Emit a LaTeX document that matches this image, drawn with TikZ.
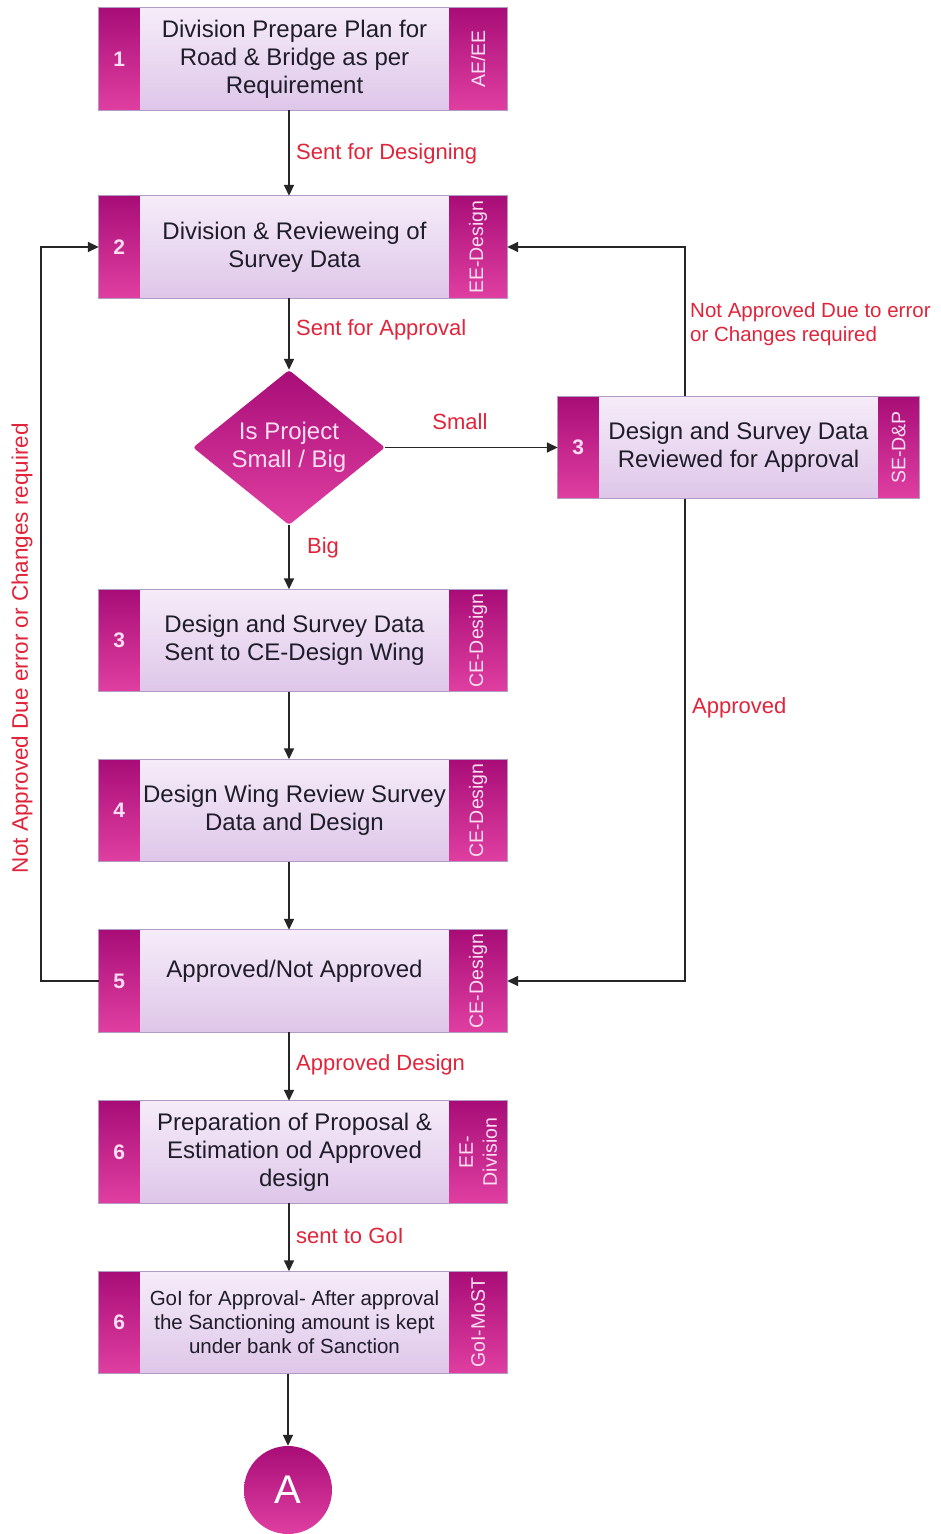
\documentclass[tikz,border=0pt]{standalone}
\usepackage{fontspec}
\setmainfont{Liberation Sans}
\usetikzlibrary{shapes.geometric,arrows.meta,calc}

\definecolor{bandtop}{HTML}{A80D77}
\definecolor{bandbot}{HTML}{E03FA1}
\definecolor{midtop}{HTML}{F6ECF9}
\definecolor{midbot}{HTML}{DEC6E9}
\definecolor{boxline}{HTML}{B39AC4}
\definecolor{labred}{HTML}{E0243A}
\definecolor{ink}{HTML}{1F1D2A}
\definecolor{tagcol}{HTML}{FADDF1}

\tikzset{
  stepbox/.style={rectangle, minimum height=102pt, inner sep=0pt,
    top color=midtop, bottom color=midbot, draw=none},
  band/.style={top color=bandtop, bottom color=bandbot},
  boxedge/.style={draw=boxline, line width=0.8pt},
  numtext/.style={text=tagcol, inner sep=0pt, font=\bfseries\fontsize{21}{24}\selectfont},
  bodytext/.style={text=ink, align=center, inner sep=0pt, font=\fontsize{24}{28}\selectfont},
  tagtext/.style={text=tagcol, rotate=90, align=center, inner sep=0pt, font=\fontsize{19.5}{24}\selectfont},
  decision/.style={diamond, aspect=1.24, minimum width=192pt, minimum height=155pt,
    inner sep=0pt, top color=bandtop, bottom color=bandbot, rounded corners=3pt,
    text=tagcol, align=center, font=\fontsize{24}{28}\selectfont},
  terminal/.style={circle, minimum size=88pt, inner sep=0pt,
    top color=bandtop, bottom color=bandbot, text=white,
    font=\fontsize{40}{40}\selectfont},
  arr/.style={draw=black!85, line width=1.6pt, -{Triangle[length=11pt,width=10pt]}},
  lab/.style={text=labred, inner sep=0pt, font=\fontsize{22}{24}\selectfont},
}

% #1 body style, #2 name, #3 x, #4 y, #5 width, #6 right band width,
% #7 number, #8 body text, #9 role tag
\newcommand\flowstep[9][]{%
  \node[stepbox, minimum width=#5] (#2) at (#3,#4) {};
  \fill[band] (#2.north west) rectangle ([xshift=41pt]#2.south west);
  \fill[band] ([xshift=-#6]#2.north east) rectangle (#2.south east);
  \draw[boxedge] (#2.north west) rectangle (#2.south east);
  \node[numtext] (#2-num) at ([xshift=20.5pt]#2.west) {#7};
  \node[bodytext,#1] (#2-body) at ($([xshift=41pt]#2.west)!0.5!([xshift=-#6]#2.east)$) {#8};
  \node[tagtext] (#2-tag) at ([xshift=-#6/2]#2.east) {#9};
}

\begin{document}
\begin{tikzpicture}[x=1pt, y=-1pt]
\useasboundingbox (0,0) rectangle (940,1534);

% main column of steps
\flowstep{n1}{303}{59}{408pt}{58pt}{1}{Division Prepare Plan for\\Road \& Bridge as per\\Requirement}{AE/EE}
\flowstep{n2}{303}{247}{408pt}{58pt}{2}{Division \& Revieweing of\\Survey Data}{EE-Design}
\flowstep{n3}{303}{640.5}{408pt}{58pt}{3}{Design and Survey Data\\Sent to CE-Design Wing}{CE-Design}
\flowstep{n4}{303}{810.5}{408pt}{58pt}{4}{Design Wing Review Survey\\Data and Design}{CE-Design}
\flowstep[yshift=10pt]{n5}{303}{981}{408pt}{58pt}{5}{Approved/Not Approved}{CE-Design}
\flowstep{n6}{303}{1152}{408pt}{58pt}{6}{Preparation of Proposal \&\\Estimation od Approved\\design}{EE-\\Division}
\flowstep[font=\fontsize{20.5}{24}\selectfont]{n7}{303}{1322.5}{408pt}{58pt}{6}{GoI for Approval- After approval\\the Sanctioning amount is kept\\under bank of Sanction}{GoI-MoST}

% side step for small projects
\flowstep{r3}{738.5}{447.5}{361pt}{41pt}{3}{Design and Survey Data\\Reviewed for Approval}{SE-D\&P}

% decision and terminal
\node[decision] (d) at (289,447.5) {Is Project\\Small / Big};
\node[terminal] (A) at (288,1490) {A};

% guide coordinates for the loop-back lines
\coordinate (rx) at (685,0);
\coordinate (lx) at (41,0);

% main flow
\draw[arr] (n1.south -| d) -- (n2.north -| d);
\draw[arr] (n2.south -| d) -- (d.north);
\draw[arr] (d.east) -- (r3.west);
\draw[arr] (d.south) -- (n3.north -| d);
\draw[arr] (n3.south -| d) -- (n4.north -| d);
\draw[arr] (n4.south -| d) -- (n5.north -| d);
\draw[arr] (n5.south -| d) -- (n6.north -| d);
\draw[arr] (n6.south -| d) -- (n7.north -| d);
\draw[arr] (n7.south -| A) -- (A.north);

% loops
\draw[arr] (r3.north -| rx) |- (n2.east);
\draw[arr] (r3.south -| rx) |- (n5.east);
\draw[arr] (n5.west) -- (n5.west -| lx) |- (n2.west);

% connector labels
\node[lab, anchor=west] (l1) at (296,154) {Sent for Designing};
\node[lab, anchor=west] (l2) at (296,330) {Sent for Approval};
\node[lab] (l3) at (460,422) {Small};
\node[lab] (l4) at (323,548) {Big};
\node[lab, anchor=west, align=left, font=\fontsize{20.5}{24}\selectfont] (l5) at (690,324) {Not Approved Due to error\\or Changes required};
\node[lab, anchor=west] (l6) at (692,708) {Approved};
\node[lab, anchor=west] (l7) at (296,1065) {Approved Design};
\node[lab, anchor=west] (l8) at (296,1236) {sent to GoI};
\node[lab, rotate=90, font=\fontsize{22.5}{24}\selectfont] (l9) at (22,648) {Not Approved Due error or Changes required};
\end{tikzpicture}
\end{document}
